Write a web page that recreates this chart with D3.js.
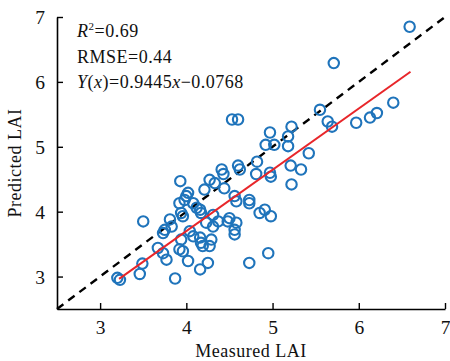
<!DOCTYPE html>
<html>
<head>
<meta charset="utf-8">
<script src="https://cdn.jsdelivr.net/npm/d3@7"></script>
<style>
  body { margin: 0; background: #fff; }
  svg { display: block; font-family: 'Liberation Serif', 'Times New Roman', serif; }
</style>
</head>
<body>
<svg id="chart" width="450" height="361"></svg>
<script>
// Measured vs predicted LAI
const measured = [
  6.59, 5.71, 6.40, 6.21, 6.13, 5.97, 5.64, 5.69, 5.55, 5.42,
  5.22, 5.18, 5.18, 4.97, 5.02, 4.92, 4.82, 4.53, 4.60, 4.60,
  4.62, 4.41, 4.43, 4.27, 4.33, 4.21, 4.44, 4.81, 4.97, 4.98,
  5.21, 5.33, 5.22, 4.56, 4.58, 4.73, 4.91, 4.98, 3.93, 4.02,
  3.98, 3.92, 4.00, 4.12, 4.16, 4.17, 4.08, 3.94, 3.96, 3.81,
  3.83, 3.75, 3.73, 4.31, 4.37, 4.31, 4.23, 4.50, 4.58, 4.56,
  4.56, 4.04, 4.08, 4.16, 4.17, 3.94, 4.29, 4.27, 4.85, 3.50,
  3.20, 3.23, 3.49, 3.46, 3.87, 3.67, 3.73, 3.77, 3.92, 3.96,
  4.02, 4.16, 4.25, 4.19, 4.73, 4.95, 4.48, 4.73
]
const predicted = [
  6.85, 6.29, 5.68, 5.52, 5.45, 5.37, 5.39, 5.31, 5.57, 4.90,
  5.31, 5.16, 5.01, 5.22, 5.03, 5.03, 4.77, 5.42, 5.42, 4.71,
  4.65, 4.65, 4.58, 4.49, 4.44, 4.34, 4.36, 4.58, 4.60, 4.54,
  4.71, 4.65, 4.42, 4.24, 4.16, 4.18, 4.03, 3.93, 4.47, 4.29,
  4.18, 4.13, 4.24, 4.06, 4.03, 3.98, 4.13, 3.98, 3.93, 3.88,
  3.77, 3.72, 3.67, 3.95, 3.85, 3.77, 3.83, 3.90, 3.83, 3.72,
  3.65, 3.70, 3.62, 3.60, 3.52, 3.57, 3.57, 3.47, 3.98, 3.85,
  2.98, 2.95, 3.20, 3.04, 2.97, 3.44, 3.36, 3.26, 3.42, 3.39,
  3.24, 3.11, 3.21, 3.47, 3.21, 3.36, 3.85, 4.13
]

const xTicks = [3, 4, 5, 6, 7]
const yTicks = [3, 4, 5, 6, 7]
const fitSlope = 0.9445
const fitIntercept = -0.0768
const fitRange = [3.22, 6.6]

const svg = d3.select('#chart')
const margin = { top: 17, right: 5, bottom: 52, left: 57 }
const width = 450 - margin.left - margin.right
const height = 361 - margin.top - margin.bottom

const g = svg.append('g').attr('transform', `translate(${margin.left},${margin.top})`)

const x = d3.scaleLinear().domain([2.5, 7]).range([0, width])
const y = d3.scaleLinear().domain([2.5, 7]).range([height, 0])

// axes - ticks point inward, no box
const xAxis = g.append('g')
  .attr('transform', `translate(0,${height})`)
  .call(d3.axisBottom(x).tickValues(xTicks).tickFormat(d3.format('d')).tickSizeInner(-6).tickSizeOuter(0).tickPadding(11))
const yAxis = g.append('g')
  .call(d3.axisLeft(y).tickValues(yTicks).tickFormat(d3.format('d')).tickSizeInner(-6).tickSizeOuter(0).tickPadding(12))

;[xAxis, yAxis].forEach(ax => {
  ax.select('.domain').attr('stroke', '#000').attr('stroke-width', 1.6)
  ax.selectAll('.tick line').attr('stroke', '#000').attr('stroke-width', 1.4)
  ax.selectAll('text')
    .style('font-family', "'Liberation Serif', serif")
    .style('font-size', '19.5px')
    .attr('fill', '#111')
})
yAxis.selectAll('text').attr('dy', '0.35em')

// 1:1 line
g.append('line')
  .attr('x1', x(2.5)).attr('y1', y(2.5))
  .attr('x2', x(7)).attr('y2', y(7))
  .attr('stroke', '#000')
  .attr('stroke-width', 2.4)
  .attr('stroke-dasharray', '8,6')

// points
g.selectAll('.pt')
  .data(measured.map((m, i) => [m, predicted[i]]))
  .enter()
  .append('circle')
  .classed('pt', true)
  .attr('cx', d => x(d[0]))
  .attr('cy', d => y(d[1]))
  .attr('r', 5.2)
  .attr('fill', 'none')
  .attr('stroke', '#1f74bb')
  .attr('stroke-width', 2.1)

// regression line
g.append('line')
  .attr('x1', x(fitRange[0])).attr('y1', y(fitSlope * fitRange[0] + fitIntercept))
  .attr('x2', x(fitRange[1])).attr('y2', y(fitSlope * fitRange[1] + fitIntercept))
  .attr('stroke', '#e8262a')
  .attr('stroke-width', 2)

// stats text
const stats = svg.append('g')
  .attr('font-size', '18px')
  .attr('letter-spacing', '0.5px')
  .attr('fill', '#111')
const r2 = stats.append('text').attr('x', 77).attr('y', 37)
r2.append('tspan').attr('font-style', 'italic').text('R')
r2.append('tspan').attr('font-size', '11px').attr('dy', '-7').text('2')
r2.append('tspan').attr('dy', '7').text('=0.69')

stats.append('text').attr('x', 77).attr('y', 63).text('RMSE=0.44')

const eq = stats.append('text').attr('x', 77).attr('y', 88)
eq.append('tspan').attr('font-style', 'italic').text('Y')
eq.append('tspan').text('(')
eq.append('tspan').attr('font-style', 'italic').text('x')
eq.append('tspan').text(')=0.9445')
eq.append('tspan').attr('font-style', 'italic').text('x')
eq.append('tspan').text('\u22120.0768')

// axis titles
svg.append('text')
  .attr('x', margin.left + width / 2)
  .attr('y', 357)
  .attr('text-anchor', 'middle')
  .attr('font-size', '18px')
  .attr('letter-spacing', '0.5px')
  .attr('fill', '#111')
  .text('Measured LAI')

svg.append('text')
  .attr('transform', `translate(21,${margin.top + height / 2}) rotate(-90)`)
  .attr('text-anchor', 'middle')
  .attr('font-size', '18px')
  .attr('letter-spacing', '0.5px')
  .attr('fill', '#111')
  .text('Predicted LAI')
</script>
</body>
</html>
